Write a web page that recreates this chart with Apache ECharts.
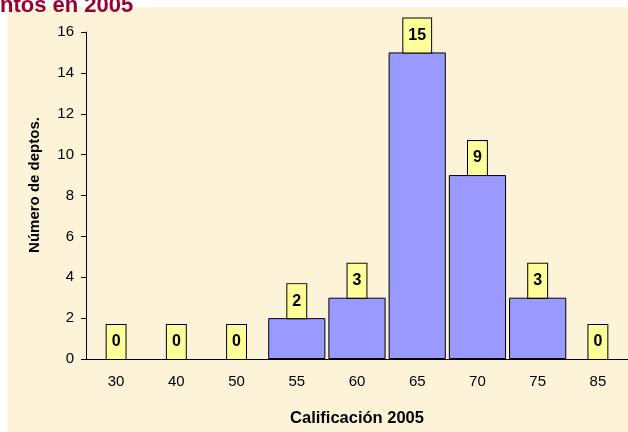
<!DOCTYPE html>
<html lang="es">
<head>
    <meta charset="utf-8">
    <title>Calificación 2005</title>
    <script src="https://cdn.jsdelivr.net/npm/echarts@6/dist/echarts.min.js"></script>
    <style>
        html, body { margin: 0; padding: 0; background: #fff; }
        #main { width: 628px; height: 432px; }
    </style>
</head>
<body>
<div id="main"></div>
<script>
    // datos del histograma
    var categorias = ['30', '40', '50', '55', '60', '65', '70', '75', '85'];
    var deptos = [0, 0, 0, 2, 3, 15, 9, 3, 0];
    var yTicks = { min: 0, max: 16, interval: 2 };

    var fuente = 'Liberation Sans, Arial, sans-serif';
    var myChart = echarts.init(document.getElementById('main'));

    // las barras en cero no llevan borde (si no, engordan el eje)
    var barras = deptos.map(function (v) {
        return v === 0 ? { value: v, itemStyle: { borderWidth: 0 } } : v;
    });

    var option = {
        backgroundColor: '#fff',
        animation: false,
        graphic: [{
            type: 'rect',
            left: 8, top: 7, z: -10,
            shape: { width: 620, height: 425 },
            style: { fill: '#FCF3D9' }
        }, {
            type: 'text',
            x: 35, y: 185,
            rotation: Math.PI / 2,
            style: {
                text: 'Número de deptos.',
                align: 'center',
                verticalAlign: 'middle',
                fill: '#000',
                font: 'bold 15px ' + fuente
            }
        }],
        title: {
            text: 'ntos en 2005',
            left: 0, top: -5,
            padding: 0,
            textStyle: { color: '#990033', fontSize: 22, fontWeight: 'bold', fontFamily: fuente }
        },
        grid: { left: 86, right: 0, top: 32, bottom: 73 },
        xAxis: {
            type: 'category',
            data: categorias,
            name: 'Calificación 2005',
            nameLocation: 'middle',
            nameGap: 51,
            nameTextStyle: { fontWeight: 'bold', fontSize: 16.5, color: '#000', fontFamily: fuente },
            axisLine: { lineStyle: { color: '#000' } },
            axisTick: { length: 5, lineStyle: { color: '#000' } },
            axisLabel: { fontSize: 15, color: '#000', margin: 15, fontFamily: fuente }
        },
        yAxis: {
            type: 'value',
            min: yTicks.min, max: yTicks.max, interval: yTicks.interval,
            axisLine: { show: true, lineStyle: { color: '#000' } },
            axisTick: { show: true, length: 5, lineStyle: { color: '#000' } },
            splitLine: { show: false },
            axisLabel: { fontSize: 15, color: '#000', margin: 12, fontFamily: fuente }
        },
        series: [{
            type: 'bar',
            data: barras,
            barCategoryGap: '5%',
            itemStyle: { color: '#9999FF', borderColor: '#000', borderWidth: 1 },
            label: {
                show: true,
                position: 'top',
                distance: 0,
                backgroundColor: '#FFFF99',
                borderColor: '#000',
                borderWidth: 1,
                padding: [9, 5],
                color: '#000',
                fontWeight: 'bold',
                fontSize: 16,
                fontFamily: fuente
            }
        }]
    };
    myChart.setOption(option);
</script>
</body>
</html>
